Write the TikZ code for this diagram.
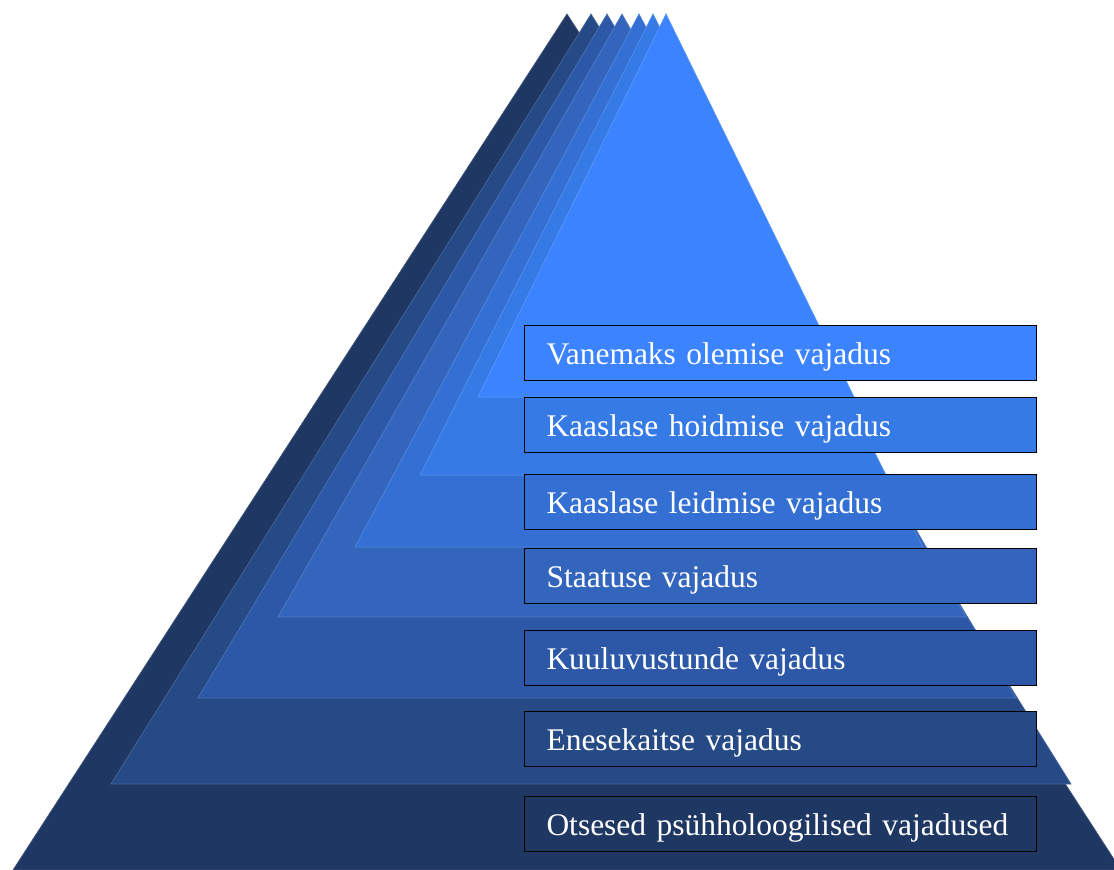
\documentclass[tikz,border=0pt]{standalone}
\usepackage{fontspec}
\setmainfont{Liberation Serif}
\usepackage{xcolor}
\usetikzlibrary{positioning}
\definecolor{tang1}{HTML}{1F3763}
\definecolor{tang2}{HTML}{264A85}
\definecolor{tang3}{HTML}{2D58A7}
\definecolor{tang4}{HTML}{3365BD}
\definecolor{tang5}{HTML}{3470D4}
\definecolor{tang6}{HTML}{367AE6}
\definecolor{tang7}{HTML}{3B83FF}

\begin{document}
\begin{tikzpicture}[x=1pt, y=-1pt,
    hop/.style={draw=black, line width=1pt, anchor=north west,
        minimum width=512pt, minimum height=55pt, text width=468pt,
        text height=25pt, text depth=2pt,
        inner xsep=22pt, inner ysep=0pt, align=left, text=white,
        font=\fontsize{31.5}{33}\selectfont}]
    % 1. Khung
    \useasboundingbox (0,0) rectangle (1114,870);
    \clip (0,0) rectangle (1114,870);

    % 2. Cac tang kim tu thap
    \foreach \ax/\by/\hw/\c in {567/870/554/tang1, 591/784/480/tang2,
        607/698/409/tang3, 622/617/344/tang4, 639/547/284/tang5,
        653/475/233/tang6, 666/397/188/tang7} {
        \filldraw[fill=\c, draw=\c!85!white, line width=0.7pt]
            (\ax,14) -- (\ax-\hw,\by) -- (\ax+\hw,\by) -- cycle;
    }

    % 3. Cac hop nhan
    \foreach \y/\c/\t [count=\i] in {325/tang7/Vanemaks olemise vajadus,
        397/tang6/Kaaslase hoidmise vajadus,
        474/tang5/Kaaslase leidmise vajadus,
        548/tang4/Staatuse vajadus,
        630/tang3/Kuuluvustunde vajadus,
        711/tang2/Enesekaitse vajadus,
        796/tang1/Otsesed psühholoogilised vajadused} {
        \node[hop, fill=\c] (h\i) at (524,\y) {\t};
    }
\end{tikzpicture}
\end{document}
